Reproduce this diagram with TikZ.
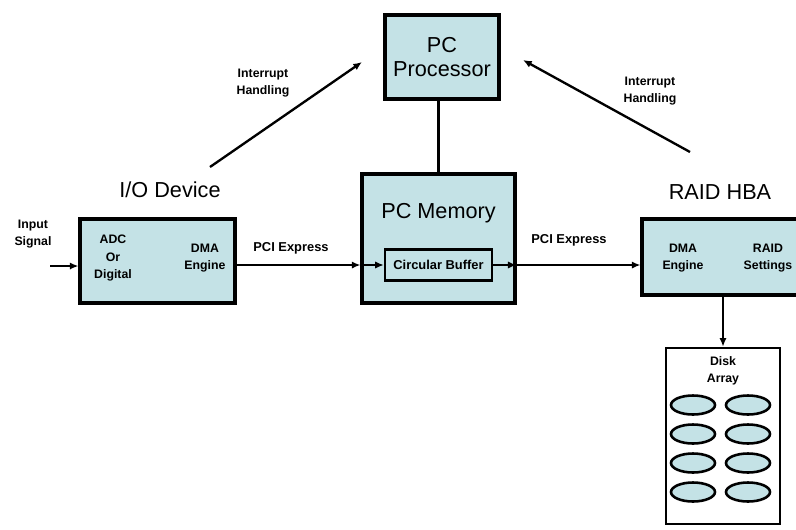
\documentclass[tikz,border=0pt]{standalone}
\usepackage{xcolor}
\usepackage{fontspec}
\setmainfont{Liberation Sans}
\usepackage{tikz}
\usetikzlibrary{arrows.meta, shapes.geometric, positioning, calc}

\definecolor{boxfill}{HTML}{C4E2E6}

\begin{document}
\begin{tikzpicture}[x=0.3mm, y=-0.3mm,
  block/.style={draw, line width=2.6pt, fill=boxfill, inner sep=0pt},
  title/.style={font=\fontsize{18.5}{21}\selectfont, align=center},
  lbl/.style={font=\fontsize{10.5}{15}\selectfont\bfseries, align=center},
  disk/.style={draw, ellipse, line width=2.2pt, fill=boxfill,
               minimum width=13.2mm, minimum height=5.7mm, inner sep=0pt},
  link/.style={line width=2.2pt},
  arr/.style={line width=2pt, -{Latex[length=2.6mm, width=2.2mm]}}]
  \useasboundingbox (0,0) rectangle (796,529);
  % the blocks, placed by pixel coordinates of the original
  \node[block, minimum width=34.2mm, minimum height=25.2mm, title] (proc) at (442,57) {PC\\Processor};
  \node[block, minimum width=45.9mm, minimum height=38.7mm] (mem) at (438.5,238.5) {};
  \node[title] (memt) at (438.5,213) {PC Memory};
  \node[draw, line width=2pt, fill=boxfill, minimum width=32.1mm, minimum height=9.3mm,
        font=\fontsize{11}{13}\selectfont\bfseries] (buf) at (438.5,265) {Circular Buffer};
  \node[block, minimum width=46.5mm, minimum height=25.2mm] (io) at (157.5,261) {};
  \node[block, minimum width=50.4mm, minimum height=22.8mm] (raid) at (726,257) {};
  \node[draw, line width=2.2pt, fill=white, minimum width=34.2mm, minimum height=52.8mm] (arr) at (723,436) {};
  % titles and texts
  \node[title] (iot) at (170,190) {I/O Device};
  \node[title] (raidt) at (720,192) {RAID HBA};
  \node[lbl] (insig) at (33,234) {Input\\Signal};
  \node[lbl] (adc) at (113,258) {ADC\\Or\\Digital};
  \node[lbl] (dmaa) at (205,258) {DMA\\Engine};
  \node[lbl] (dmab) at (683,258) {DMA\\Engine};
  \node[lbl] (rset) at (768,258) {RAID\\Settings};
  \node[lbl, font=\fontsize{11}{15}\selectfont\bfseries] (pcia) at (291,248) {PCI Express};
  \node[lbl, font=\fontsize{11}{15}\selectfont\bfseries] (pcib) at (569,240) {PCI Express};
  \node[lbl] (dsk) at (723,371) {Disk\\Array};
  \node[lbl] (irqa) at (263,83) {Interrupt\\Handling};
  \node[lbl] (irqb) at (650,91) {Interrupt\\Handling};
  % disks, two columns of four
  \foreach \r/\y in {1/405,2/434,3/463,4/492} {
    \node[disk] (dl\r) at (693,\y) {};
    \node[disk] (dr\r) at (748,\y) {};
  }
  % connectors
  \coordinate (insrc) at (50,266);
  \coordinate (irqla) at (210,167);
  \coordinate (irqlb) at (362,62);
  \coordinate (irqra) at (690,152);
  \coordinate (irqrb) at (523,60);
  \draw[arr] (insrc) -- (insrc -| io.west);
  \draw[arr] (buf.west -| io.east) -- (buf.west -| mem.west);
  \draw[arr] (buf.west -| mem.west) -- (buf.west);
  \draw[arr] (buf.east) -- (buf.east -| mem.east);
  \draw[arr] (buf.east -| mem.east) -- (buf.east -| raid.west);
  \draw[link] (proc.south -| mem.north) -- (mem.north);
  \draw[arr] (arr.north |- raid.south) -- (arr.north);
  \draw[arr] (irqla) -- (irqlb);
  \draw[arr] (irqra) -- (irqrb);
\end{tikzpicture}
\end{document}
